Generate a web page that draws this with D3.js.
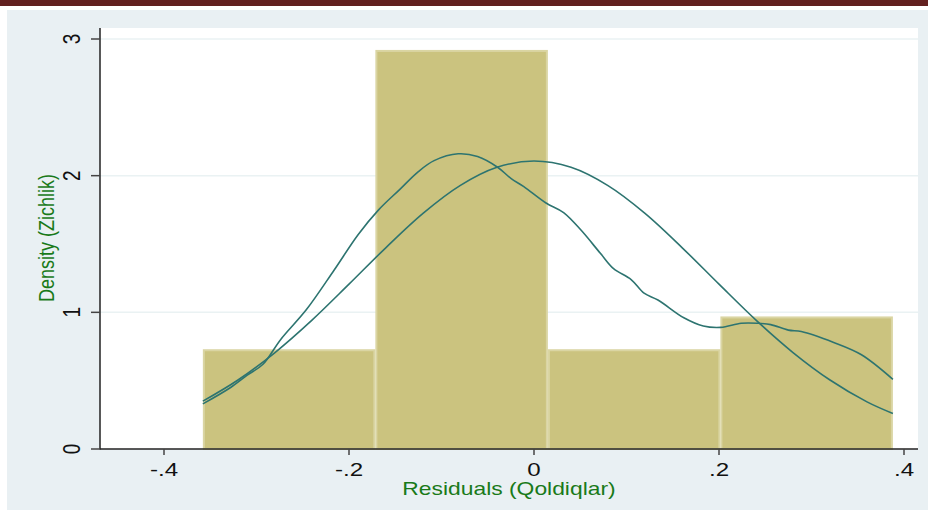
<!DOCTYPE html>
<html>
<head>
<meta charset="utf-8">
<script src="https://cdn.jsdelivr.net/npm/d3@7"></script>
<style>
  body { margin: 0; background: #fff; }
  text { font-family: "Liberation Sans", Arial, sans-serif; }
</style>
</head>
<body>
<svg width="928" height="510" id="mainsvg"></svg>
<script>
// histogram bins (edges) and densities
const binEdges = [-0.358, -0.1715, 0.015, 0.2015, 0.388];
const binDensity = [0.73, 2.92, 0.73, 0.97];

// kernel density estimate
const kdeX = [-0.358, -0.328, -0.31, -0.293, -0.274, -0.246, -0.216, -0.19, -0.168, -0.145, -0.125, -0.108, -0.082, -0.061,
  -0.039, -0.025, -0.011, 0.013, 0.032, 0.051, 0.072, 0.086, 0.105, 0.119, 0.134, 0.162, 0.183, 0.202, 0.224, 0.242,
  0.256, 0.275, 0.289, 0.324, 0.354, 0.388];
const kdeY = [0.33, 0.45, 0.54, 0.62, 0.8, 1.02, 1.31, 1.57, 1.75, 1.9, 2.03, 2.11, 2.16, 2.14,
  2.06, 1.98, 1.92, 1.8, 1.73, 1.6, 1.43, 1.32, 1.24, 1.14, 1.09, 0.96, 0.9, 0.89, 0.92, 0.92,
  0.91, 0.87, 0.86, 0.78, 0.69, 0.51];

// normal density overlay
const normX = [-0.358, -0.32, -0.28, -0.24, -0.2, -0.16, -0.12, -0.08, -0.04, 0, 0.04, 0.08, 0.12, 0.16, 0.2, 0.24, 0.28, 0.32, 0.36, 0.388];
const normY = [0.35, 0.505, 0.706, 0.943, 1.206, 1.474, 1.724, 1.927, 2.061, 2.107, 2.061, 1.927, 1.724, 1.474, 1.206, 0.943, 0.706, 0.505, 0.345, 0.26];

const xTicks = [-0.4, -0.2, 0, 0.2, 0.4];
const xTickLabels = ['-.4', '-.2', '0', '.2', '.4'];
const yTicks = [0, 1, 2, 3];

const svg = d3.select('#mainsvg');
const plot = {left: 100, right: 918, top: 28, bottom: 449};
const stretch = 1.27;

svg.append('rect').attr('x', 0).attr('y', 0).attr('width', 928).attr('height', 6).attr('fill', '#62201f');
svg.append('rect').attr('x', 7).attr('y', 10).attr('width', 921).attr('height', 500).attr('fill', '#e9f0f3');
svg.append('rect').attr('x', plot.left).attr('y', plot.top)
  .attr('width', plot.right - plot.left).attr('height', plot.bottom - plot.top).attr('fill', '#fff');

const x = d3.scaleLinear().domain([-0.4, 0.4]).range([164, 904]);
const y = d3.scaleLinear().domain([0, 3]).range([449, 39]);

// gridlines
svg.selectAll('.grid').data(yTicks.filter(d => d > 0)).join('line')
  .attr('x1', plot.left).attr('x2', plot.right)
  .attr('y1', d => y(d)).attr('y2', d => y(d))
  .attr('stroke', '#eaf2f3').attr('stroke-width', 1.5);

// bars
const bins = binDensity.map((d, i) => ({x0: binEdges[i], x1: binEdges[i + 1], d}));
svg.selectAll('.bar').data(bins).join('rect')
  .attr('x', d => x(d.x0) + 1)
  .attr('y', d => y(d.d) + 1)
  .attr('width', d => x(d.x1) - x(d.x0) - 2)
  .attr('height', d => y(0) - y(d.d) - 1)
  .attr('fill', '#cbc37f')
  .attr('stroke', '#dad5a3').attr('stroke-width', 2);

// curves
const line = d3.line().x(d => x(d[0])).y(d => y(d[1])).curve(d3.curveCatmullRom);
svg.append('path').datum(normX.map((v, i) => [v, normY[i]]))
  .attr('d', line).attr('fill', 'none').attr('stroke', '#2d7470').attr('stroke-width', 1.6);
svg.append('path').datum(kdeX.map((v, i) => [v, kdeY[i]]))
  .attr('d', line).attr('fill', 'none').attr('stroke', '#2d7470').attr('stroke-width', 1.6);

// axes
svg.append('line').attr('x1', plot.left).attr('x2', plot.left).attr('y1', plot.top).attr('y2', plot.bottom + 0.5)
  .attr('stroke', '#222').attr('stroke-width', 1.5);
svg.append('line').attr('x1', plot.left).attr('x2', plot.right).attr('y1', plot.bottom).attr('y2', plot.bottom)
  .attr('stroke', '#222').attr('stroke-width', 1.5);

svg.selectAll('.yt').data(yTicks).join('line')
  .attr('x1', 91).attr('x2', plot.left).attr('y1', d => y(d)).attr('y2', d => y(d))
  .attr('stroke', '#444').attr('stroke-width', 1.5);
svg.selectAll('.ytl').data(yTicks).join('text')
  .attr('transform', d => `translate(80,${y(d)}) scale(${stretch},1) rotate(-90)`)
  .attr('text-anchor', 'middle').attr('font-size', 19).attr('fill', '#111')
  .text(d => d);

svg.selectAll('.xt').data(xTicks).join('line')
  .attr('x1', d => x(d)).attr('x2', d => x(d)).attr('y1', plot.bottom).attr('y2', plot.bottom + 6)
  .attr('stroke', '#444').attr('stroke-width', 1.5);
svg.selectAll('.xtl').data(xTicks).join('text')
  .attr('transform', d => `translate(${x(d)},476) scale(${stretch},1)`)
  .attr('text-anchor', 'middle').attr('font-size', 19).attr('fill', '#111')
  .text((d, i) => xTickLabels[i]);

svg.append('text')
  .attr('transform', `translate(509,495) scale(${stretch},1)`)
  .attr('text-anchor', 'middle').attr('font-size', 18).attr('fill', '#197a19')
  .text('Residuals (Qoldiqlar)');
svg.append('text')
  .attr('transform', `translate(54,238) scale(${stretch},1) rotate(-90)`)
  .attr('text-anchor', 'middle').attr('font-size', 18).attr('fill', '#197a19')
  .text('Density (Zichlik)');
</script>
</body>
</html>
